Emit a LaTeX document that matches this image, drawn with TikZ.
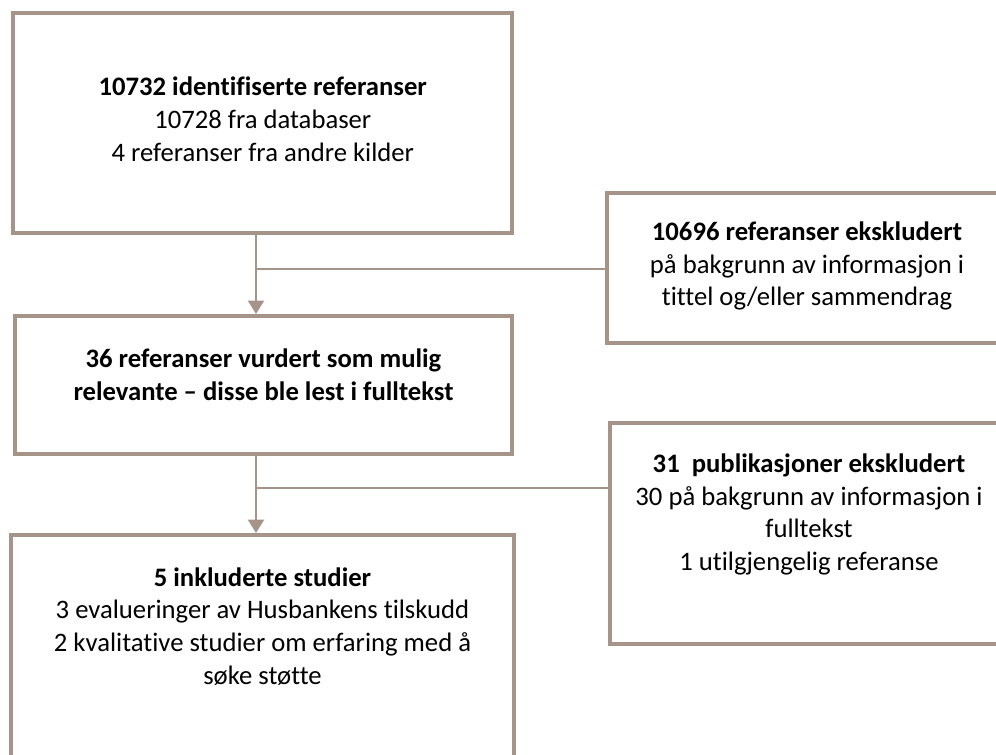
\documentclass[tikz,border=0pt]{standalone}
\usepackage{fontspec}
\setmainfont{Carlito}[Ligatures={NoCommon}]
\usetikzlibrary{arrows.meta}
\definecolor{taupe}{RGB}{167,148,137}
\tikzset{
  box/.style={draw=taupe, line width=3pt, rectangle, inner sep=0pt, fill=white},
  txt/.style={align=center, font=\fontsize{20}{24.6}\selectfont, inner sep=0pt, text=black},
  link/.style={draw=taupe, line width=1.5pt},
  arr/.style={link, -{Triangle[width=12pt,length=10pt]}}
}
\begin{document}
\begin{tikzpicture}[x=0.75pt,y=-0.75pt]
\useasboundingbox (0,0) rectangle (996,755);
\clip (0,0) rectangle (996,755);
\node[box, minimum width=373.9pt, minimum height=165pt] (b1) at (262.75,123) {};
\node[box, minimum width=372.75pt, minimum height=103.5pt] (b2) at (263.5,385) {};
\node[box, minimum width=377.25pt, minimum height=198.75pt] (b5) at (262.5,667.5) {};
\node[box, minimum width=300pt, minimum height=112.5pt] (b3) at (807,268) {};
\node[box, minimum width=298.5pt, minimum height=165.75pt] (b4) at (809,533.5) {};

\node[txt] (t1) at (262.75,119) {\textbf{10732 identifiserte referanser}\\10728 fra databaser\\4 referanser fra andre kilder};
\node[txt] (t2) at (263.5,374.5) {\textbf{36 referanser vurdert som mulig}\\\textbf{relevante – disse ble lest i fulltekst}};
\node[txt] (t3) at (807,266) {\textbf{10696 referanser ekskludert}\\på bakgrunn av informasjon i\\tittel og/eller sammendrag};
\node[txt] (t4) at (809,514.5) {\textbf{31\ \ publikasjoner ekskludert}\\30 på bakgrunn av informasjon i\\fulltekst\\1 utilgjengelig referanse};
\node[txt] (t5) at (262.5,626.5) {\textbf{5 inkluderte studier}\\3 evalueringer av Husbankens tilskudd\\2 kvalitative studier om erfaring med å\\søke støtte};

\coordinate (j1) at (256,269);
\coordinate (j2) at (256,488);
\draw[arr] (b1.south -| j1) -- (b2.north -| j1);
\draw[link] (j1) -- (b3.west |- j1);
\draw[arr] (b2.south -| j2) -- (b5.north -| j2);
\draw[link] (j2) -- (b4.west |- j2);
\end{tikzpicture}
\end{document}
